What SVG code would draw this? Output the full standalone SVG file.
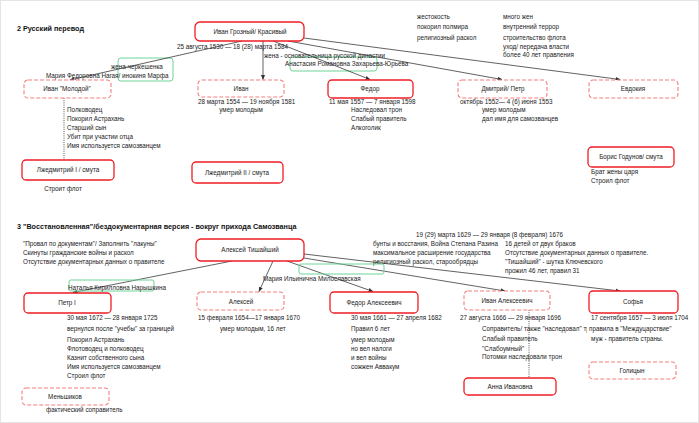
<svg xmlns="http://www.w3.org/2000/svg" width="699" height="423" viewBox="0 0 699 423">
<defs>
<marker id="ah" viewBox="0 0 10 10" refX="9" refY="5" markerWidth="5" markerHeight="5" orient="auto" markerUnits="userSpaceOnUse">
<path d="M0,1 L10,5 L0,9 z" fill="#333"/>
</marker>
<style>
.t{font-family:"Liberation Sans",Arial,sans-serif;font-size:6.3px;fill:#222}
.c{text-anchor:middle}
.h{font-family:"Liberation Sans",Arial,sans-serif;font-size:7.2px;font-weight:bold;fill:#111}
.s{fill:#fff;stroke:#f01c24;stroke-width:1.3}
.d{fill:#fff;stroke:#f48080;stroke-width:1.1;stroke-dasharray:4 2}
.g{fill:none;stroke:#6fd39a;stroke-width:1}
.ln{stroke:#3a3a3a;stroke-width:0.8;fill:none;marker-end:url(#ah)}
.dt{stroke:#555;stroke-width:1;stroke-dasharray:1 1.2;fill:none}
</style>
</defs>
<rect x="0" y="0" width="699" height="423" fill="#fff"/>
<rect x="0.5" y="0.5" width="698" height="422" fill="none" stroke="#e4e4e4" stroke-width="1"/>

<text class="h" x="17" y="31">2 Русский перевод</text>

<g id="spouse-marfa">
<rect class="g" x="118" y="58" width="55" height="23" rx="3"/>
<text class="t" x="111" y="69">жена-черкешенка</text>
<text class="t" x="46" y="78">Мария Федоровна Нагая/ инокиня Марфа</text>
</g>
<g id="spouse-anastasia">
<rect class="g" x="290" y="57" width="87" height="14" rx="3"/>
<text class="t" x="264" y="57.5">жена - основательница русской династии</text>
<text class="t" x="285" y="66">Анастасия Романовна Захарьева-Юрьева</text>
</g>

<g id="connectors">
<line class="ln" x1="242" y1="41" x2="70" y2="80"/>
<line class="ln" x1="263" y1="41" x2="263" y2="79.5"/>
<line class="ln" x1="273" y1="41" x2="370" y2="79.5"/>
<line class="ln" x1="288" y1="41" x2="502" y2="79.5"/>
<line class="ln" x1="304" y1="38" x2="620" y2="79.5"/>
<line class="dt" x1="64" y1="98" x2="64" y2="160"/>
<line class="ln" x1="232" y1="261" x2="73" y2="292.5"/>
<line class="ln" x1="273" y1="261" x2="259" y2="291.5"/>
<line class="ln" x1="287" y1="261" x2="373" y2="291.5"/>
<line class="ln" x1="304" y1="258" x2="505" y2="291"/>
<line class="ln" x1="304" y1="254" x2="620" y2="291"/>
<line class="dt" x1="529" y1="310" x2="529" y2="378"/>
</g>

<g id="ivan-grozny">
<rect class="s" x="195" y="22" width="109" height="19" rx="5"/>
<text class="t c" x="250" y="34">Иван Грозный/ Красивый</text>
</g>
<text class="t" x="177" y="48.5">25 августа 1530 — 18 (28) марта 1584</text>

<text class="t" x="417" y="19">жестокость</text>
<text class="t" x="417" y="28.5">покорил полмира</text>
<text class="t" x="417" y="40">религиозный раскол</text>
<text class="t" x="503" y="19">много жен</text>
<text class="t" x="503" y="28.5">внутренний террор</text>
<text class="t" x="503" y="40">строительство флота</text>
<text class="t" x="503" y="48.5">уход/ передача власти</text>
<text class="t" x="503" y="57">более 40 лет правления</text>

<g id="ivan-molodoy">
<rect class="d" x="24" y="80" width="87" height="18" rx="4"/>
<text class="t c" x="67" y="91">Иван "Молодой"</text>
</g>
<text class="t" x="67" y="112">Полководец</text>
<text class="t" x="67" y="121">Покорил Астрахань</text>
<text class="t" x="67" y="130">Старший сын</text>
<text class="t" x="67" y="139">Убит при участии отца</text>
<text class="t" x="67" y="147.5">Имя используется самозванцем</text>

<g id="ivan">
<rect class="d" x="198" y="80" width="86" height="17" rx="4"/>
<text class="t c" x="241" y="91">Иван</text>
</g>
<text class="t" x="198" y="103.5">28 марта 1554 — 19 ноября 1581</text>
<text class="t c" x="241" y="112">умер молодым</text>

<g id="fedor">
<rect class="s" x="328" y="80" width="85" height="18" rx="4"/>
<text class="t c" x="370" y="91">Федор</text>
</g>
<text class="t" x="329" y="103.5">11 мая 1557 — 7 января 1598</text>
<text class="t" x="351" y="112">Наследовал трон</text>
<text class="t" x="351" y="121">Слабый правитель</text>
<text class="t" x="351" y="130">Алкоголик</text>

<g id="dmitry">
<rect class="d" x="458" y="80" width="89" height="18" rx="4"/>
<text class="t c" x="503" y="91">Дмитрий/ Петр</text>
</g>
<text class="t" x="460" y="103.5">октябрь 1552— 4 (6) июня 1553</text>
<text class="t" x="482" y="112">умер молодым</text>
<text class="t" x="482" y="121">дал имя для самозванцев</text>

<g id="evdokia">
<rect class="d" x="589" y="80" width="89" height="18" rx="4"/>
<text class="t c" x="633" y="91">Евдокия</text>
</g>

<g id="lzhedmitry1">
<rect class="s" x="22" y="160" width="92" height="20" rx="4"/>
<text class="t c" x="68" y="172">Лжедмитрий I / смута</text>
</g>
<text class="t c" x="63" y="191">Строит флот</text>

<g id="lzhedmitry2">
<rect class="s" x="192" y="162" width="91" height="21" rx="4"/>
<text class="t c" x="237" y="174.5">Лжедмитрий II / смута</text>
</g>

<g id="godunov">
<rect class="s" x="588" y="147" width="86" height="20" rx="4"/>
<text class="t c" x="631" y="159">Борис Годунов/ смута</text>
</g>
<text class="t" x="591" y="174">Брат жены царя</text>
<text class="t" x="591" y="183">Строил флот</text>

<text class="h" x="17" y="228.5">3 "Восстановленная"/бездокументарная версия - вокруг прихода Самозванца</text>

<text class="t" x="23" y="246">"Провал по документам"/ Заполнить "лакуны"</text>
<text class="t" x="23" y="255">Скинуты гражданские войны и раскол</text>
<text class="t" x="23" y="264">Отсутствие документарных данных о правителе</text>

<text class="t" x="416" y="237">19 (29) марта 1629 — 29 января (8 февраля) 1676</text>
<text class="t" x="373" y="246">бунты и восстания, Война Степана Разина</text>
<text class="t" x="373" y="255">максимальное расширение государства</text>
<text class="t" x="373" y="264">религиозный раскол, старообрядцы</text>
<text class="t" x="505" y="246">16 детей от двух браков</text>
<text class="t" x="505" y="255">Отсутствие документарных данных о правителе.</text>
<text class="t" x="505" y="264">"Тишайший" - шутка Ключевского</text>
<text class="t" x="505" y="273">прожил 46 лет, правил 31</text>

<g id="spouse-naryshkina">
<rect class="g" x="69" y="280" width="85" height="11" rx="2"/>
<text class="t" x="68" y="290">Наталья Кирилловна Нарышкина</text>
</g>
<g id="spouse-miloslavskaya">
<rect class="g" x="299" y="264" width="85" height="10" rx="2"/>
<text class="t" x="263" y="281">Мария Ильинична Милославская</text>
</g>

<g id="aleksey-tishayshiy">
<rect class="s" x="196" y="239" width="108" height="22" rx="5"/>
<text class="t c" x="250" y="252">Алексей Тишайший</text>
</g>

<g id="petr1">
<rect class="s" x="24" y="293" width="87" height="20" rx="4"/>
<text class="t c" x="67" y="305">Петр I</text>
</g>
<text class="t" x="67" y="320">30 мая 1672 — 28 января 1725</text>
<text class="t" x="67" y="331">вернулся после "учебы" за границей</text>
<text class="t" x="67" y="342">Покорил Астрахань</text>
<text class="t" x="67" y="351">Флотоводец и полководец</text>
<text class="t" x="67" y="360">Казнит собственного сына</text>
<text class="t" x="67" y="369">Имя используется самозванцем</text>
<text class="t" x="67" y="377.5">Строил флот</text>

<g id="menshikov">
<rect class="d" x="22" y="388" width="87" height="17" rx="4"/>
<text class="t c" x="65" y="399">Меньшиков</text>
</g>
<text class="t" x="46" y="412">фактический соправитель</text>

<g id="aleksey">
<rect class="d" x="197" y="292" width="87" height="18" rx="4"/>
<text class="t c" x="241" y="303.5">Алексей</text>
</g>
<text class="t" x="198" y="320">15 февраля 1654—17 января 1670</text>
<text class="t" x="220" y="331">умер молодым, 16 лет</text>

<g id="fedor-alekseevich">
<rect class="s" x="330" y="292" width="88" height="21" rx="4"/>
<text class="t c" x="374" y="304.5">Федор Алексеевич</text>
</g>
<text class="t" x="351" y="320">30 мая 1661 — 27 апреля 1682</text>
<text class="t" x="351" y="331">Правил 6 лет</text>
<text class="t" x="351" y="342">умер молодым</text>
<text class="t" x="351" y="351">но вел налоги</text>
<text class="t" x="351" y="360">и вел войны</text>
<text class="t" x="351" y="369">сожжен Аввакум</text>

<g id="ivan-alekseevich">
<rect class="d" x="464" y="291" width="86" height="19" rx="4"/>
<text class="t c" x="507" y="302.5">Иван Алексеевич</text>
</g>
<text class="t" x="460" y="320">27 августа 1666 — 29 января 1696</text>
<text class="t" x="482" y="331">Соправитель/ также "наследовал" трон</text>
<text class="t" x="482" y="341">Слабый правитель</text>
<text class="t" x="482" y="351">"Слабоумный"</text>
<text class="t" x="482" y="359">Потомки наследовали трон</text>

<g id="sofya">
<rect class="s" x="589" y="291" width="89" height="22" rx="4"/>
<text class="t c" x="633" y="304">Софья</text>
</g>
<text class="t" x="591" y="320">17 сентября 1657 — 3 июля 1704</text>
<rect x="587" y="325" width="100" height="8" fill="#fff"/>
<text class="t" x="589" y="331">правила в "Междуцарствие"</text>
<text class="t" x="591" y="341">муж - правитель страны.</text>

<g id="golitsyn">
<rect class="d" x="589" y="362" width="87" height="17" rx="4"/>
<text class="t c" x="632" y="373">Голицын</text>
</g>

<g id="anna-ivanovna">
<rect class="s" x="464" y="378" width="92" height="17" rx="4"/>
<text class="t c" x="510" y="389">Анна Ивановна</text>
</g>
</svg>
